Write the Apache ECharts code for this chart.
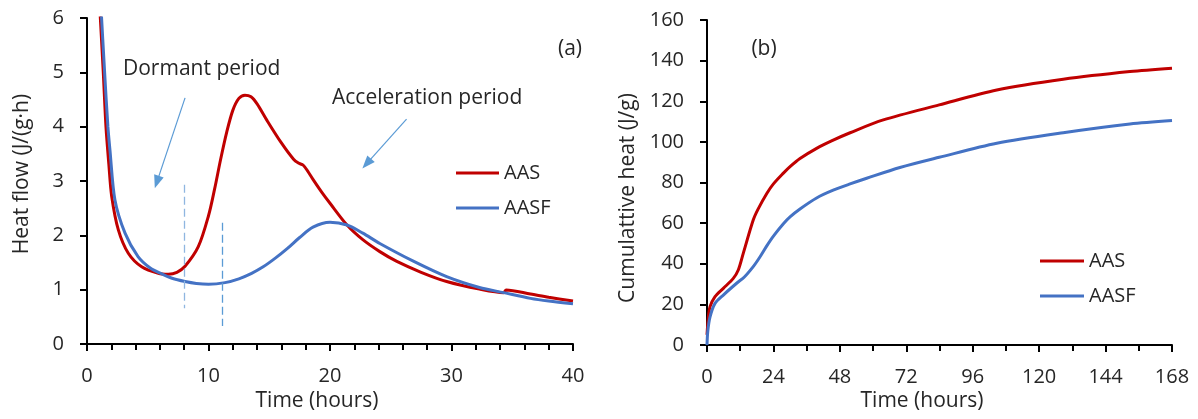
<!DOCTYPE html>
<html>
<head>
<meta charset="utf-8">
<script src="https://cdn.jsdelivr.net/npm/echarts@6/dist/echarts.min.js"></script>
<style>
html,body{margin:0;padding:0;background:#fff;}
#c{width:1198px;height:419px;}
</style>
</head>
<body>
<div id="c"></div>
<script>
// ---- (a) Heat flow, J/(g·h) vs time (hours) ----
const hfTimeAAS = [1.0,1.34,1.56,1.8,2.03,2.58,3.4,4.5,5.87,6.7,7.4,8.07,9.16,10.0,10.5,11.0,11.5,12.0,12.5,13.0,13.5,14.0,14.8,16.0,17.0,17.4,17.8,18.2,18.6,19.3,20.0,21.4,22.7,24.1,25.5,27.5,29.6,32.3,34.3,34.5,36.5,38.0,40.0];
const hfAAS     = [6.4,5.0,4.0,3.3,2.72,2.10,1.67,1.42,1.30,1.285,1.32,1.43,1.79,2.36,2.85,3.4,3.9,4.3,4.52,4.58,4.55,4.42,4.12,3.7,3.4,3.33,3.29,3.17,3.03,2.8,2.59,2.19,1.92,1.70,1.52,1.32,1.15,1.01,0.945,0.995,0.92,0.86,0.79];
const hfTimeAASF = [1.1,1.45,1.72,1.89,2.30,3.13,4.2,5.2,6.15,7.0,8.07,9.0,10.0,11.36,12.5,13.55,14.5,15.5,16.5,17.5,18.6,20.0,21.4,22.7,24.1,26.9,29.6,32.3,34.3,36.5,38.0,40.0];
const hfAASF     = [6.4,5.0,4.0,3.57,2.65,2.04,1.61,1.40,1.29,1.21,1.15,1.115,1.10,1.13,1.20,1.30,1.42,1.58,1.76,1.96,2.15,2.24,2.19,2.04,1.85,1.52,1.24,1.04,0.945,0.84,0.79,0.74];

// ---- (b) Cumulative heat, J/g vs time (hours) ----
const cumTimeAAS = [0,0.5,1.1,2.9,5.9,9.5,11.3,13.1,16.7,18.5,21.6,24,27.6,30,33.6,39.6,45,51.7,63.7,83.9,104.7,128.7,152.8,168];
const cumAAS     = [5,14,18.9,23.8,27.9,32.8,36.9,45.1,61.5,67.0,74.6,79.3,84.6,87.8,91.8,96.8,100.5,104.5,110.8,118.2,125.5,130.8,134.6,136.3];
const cumTimeAASF = [0,0.3,1.1,2.9,5.9,10.7,13.5,16.7,19,21.6,24,27.6,30,33.6,39.6,45.6,51.7,57.7,69.7,83.9,104.7,128.7,152.8,168];
const cumAASF     = [0,7,13.9,20.5,24.6,30.4,33.5,38.6,43.1,48.8,53.6,59.7,63.1,67.0,72.4,76.2,79.3,82.1,87.4,92.4,99.3,104.5,108.8,110.5];

const seriesNames = ['AAS','AASF'];
const hfXTicks = {min:0, max:40, interval:10};
const hfYTicks = {min:0, max:6, interval:1};
const cumXTicks = {min:0, max:168, interval:24};
const cumYTicks = {min:0, max:160, interval:20};

const RED = '#C00000', BLUE = '#4472C4';
const TXT = '#262626';
const FONT = '"Open Sans", "Liberation Sans", sans-serif';
const zip = (a,b) => a.map((t,i)=>[t,b[i]]);

const axisCommon = {
  axisLine:{show:true, onZero:false, lineStyle:{color:'#000', width:2}},
  axisTick:{show:true, inside:false, length:7, lineStyle:{color:'#000', width:2}},
  splitLine:{show:false},
  axisLabel:{color:TXT, fontSize:20, fontFamily:FONT}
};
function xAx(grid, t, split){
  return Object.assign({}, axisCommon, {type:'value', gridIndex:grid, min:t.min, max:t.max, interval:t.interval,
    minorTick:{show:true, splitNumber:split, length:6, lineStyle:{color:'#000', width:2}},
    axisLabel:Object.assign({}, axisCommon.axisLabel, {margin:22})});
}
function yAx(grid, t){
  return Object.assign({}, axisCommon, {type:'value', gridIndex:grid, min:t.min, max:t.max, interval:t.interval,
    axisLabel:Object.assign({}, axisCommon.axisLabel, {margin:23})});
}
function lineSeries(name, x, y, data, color, extra){
  return Object.assign({type:'line', name, xAxisIndex:x, yAxisIndex:y, data, showSymbol:false, symbol:'none',
    smooth:0.3, clip:true, animation:false, color,
    lineStyle:{color, width:3}}, extra||{});
}
const dashA = {type:[8,4], color:'#8fb6e0', width:1.3};
const dashB = {type:[8,4], color:'#5b9bd5', width:1.3};
const arrowStyle = {type:'solid', color:'#5b9bd5', width:1.2};

const chart = echarts.init(document.getElementById('c'), null, {renderer:'canvas'});
function txt(text, x, y, opts){
  return Object.assign({type:'text', x, y, silent:true, style:{text, font:'21px '+FONT, fill:TXT, align:'center', verticalAlign:'middle'}}, opts||{});
}
chart.setOption({
  backgroundColor:'#fff',
  animation:false,
  grid:[
    {left:87, top:18, width:486, height:326},
    {left:707, top:20, width:465, height:325}
  ],
  xAxis:[xAx(0, hfXTicks, 5), xAx(1, cumXTicks, 2)],
  yAxis:[yAx(0, hfYTicks), yAx(1, cumYTicks)],
  legend:[
    {data:seriesNames, orient:'vertical', left:456, top:163, padding:0, itemWidth:43, itemHeight:3, itemGap:15, icon:'rect',
     textStyle:{fontSize:20, color:TXT, fontFamily:FONT}},
    {data:seriesNames, orient:'vertical', left:1040, top:251, padding:0, itemWidth:44, itemHeight:3, itemGap:15, icon:'rect',
     textStyle:{fontSize:20, color:TXT, fontFamily:FONT}}
  ],
  series:[
    lineSeries('AAS', 0, 0, zip(hfTimeAAS, hfAAS), RED, {
      markLine:{silent:true, animation:false, symbol:['none','none'], label:{show:false}, emphasis:{disabled:true},
        data:[
          [{coord:[8, 2.93], lineStyle:dashA}, {coord:[8, 0.66]}],
          [{coord:[11.1, 2.23], lineStyle:dashB}, {coord:[11.1, 0.33]}],
          [{coord:[8.07, 4.53], lineStyle:arrowStyle, symbol:'none'}, {coord:[5.75, 2.98], symbol:'triangle', symbolSize:[10,13]}],
          [{coord:[26.3, 4.14], lineStyle:arrowStyle, symbol:'none'}, {coord:[23.02, 3.32], symbol:'triangle', symbolSize:[10,13]}]
        ]}
    }),
    lineSeries('AASF', 0, 0, zip(hfTimeAASF, hfAASF), BLUE),
    lineSeries('AAS', 1, 1, zip(cumTimeAAS, cumAAS), RED),
    lineSeries('AASF', 1, 1, zip(cumTimeAASF, cumAASF), BLUE)
  ],
  graphic:[
    txt('Dormant period', 123, 69, {style:{text:'Dormant period', font:'21px '+FONT, fill:TXT, align:'left', verticalAlign:'middle'}}),
    txt('Acceleration period', 332, 98, {style:{text:'Acceleration period', font:'21px '+FONT, fill:TXT, align:'left', verticalAlign:'middle'}}),
    txt('(a)', 570, 49),
    txt('(b)', 764, 49),
    txt('Time (hours)', 317, 401),
    txt('Time (hours)', 922, 401),
    txt('Heat flow (J/(g·h)', 22, 174, {rotation:Math.PI/2}),
    txt('Cumulattive heat (J/g)', 628, 198, {rotation:Math.PI/2})
  ]
});
</script>
</body>
</html>
